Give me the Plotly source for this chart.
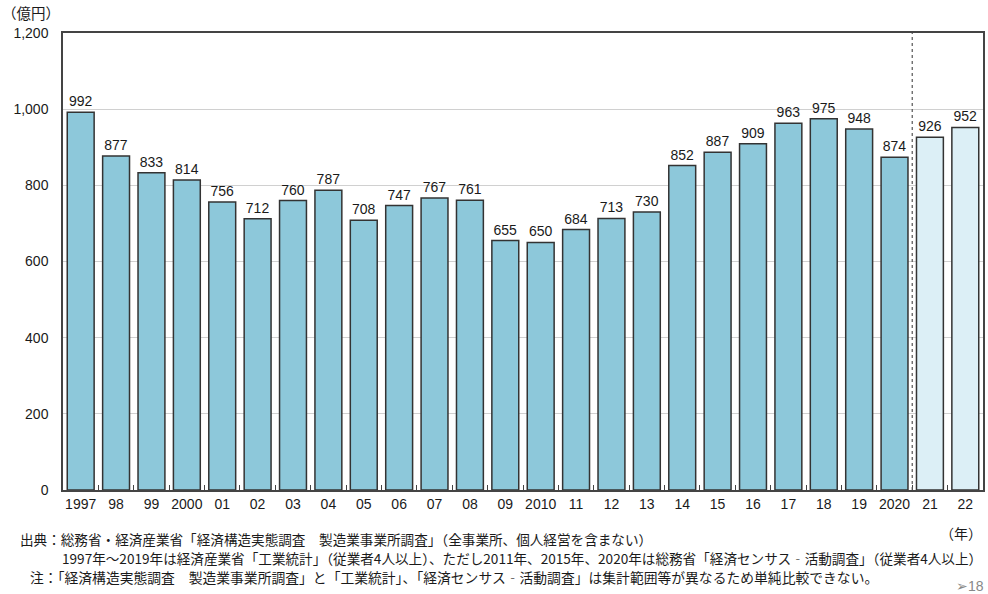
import plotly.graph_objects as go

years = ["1997", "98", "99", "2000", "01", "02", "03", "04", "05", "06", "07", "08", "09",
         "2010", "11", "12", "13", "14", "15", "16", "17", "18", "19", "2020", "21", "22"]
values = [992, 877, 833, 814, 756, 712, 760, 787, 708, 747, 767, 761, 655,
          650, 684, 713, 730, 852, 887, 909, 963, 975, 948, 874, 926, 952]
projected = ["21", "22"]
y_ticks = [0, 200, 400, 600, 800, 1000, 1200]
y_tick_labels = ["0", "200", "400", "600", "800", "1,000", "1,200"]

colors = ["#DCEFF6" if y in projected else "#8DC8DA" for y in years]

font_family = "Liberation Sans, Arial, Noto Sans CJK JP, sans-serif"
jp_font = "Noto Sans CJK JP, sans-serif"

W, H = 988, 594
ML, MR, MT, MB = 63, 3, 33, 104

fig = go.Figure()
fig.add_trace(go.Bar(
    x=years, y=values,
    marker=dict(color=colors, line=dict(color="#333333", width=1.5)),
    text=[str(v) for v in values],
    textposition="outside",
    textfont=dict(size=14, color="#1a1a1a", family=font_family),
    cliponaxis=False,
    width=0.76,
    hoverinfo="x+y",
))

# dashed boundary between actual and later years
fig.add_shape(type="line", xref="x", yref="paper",
              x0=23.5, x1=23.5, y0=0, y1=1,
              line=dict(color="#555555", width=1.2, dash="dot"))

fig.update_layout(
    width=W, height=H,
    margin=dict(l=ML, r=MR, t=MT, b=MB),
    paper_bgcolor="white", plot_bgcolor="white",
    showlegend=False,
    font=dict(family=font_family, size=14, color="#1a1a1a"),
    xaxis=dict(
        type="category", showline=True, linecolor="#444444", linewidth=1.5,
        mirror=True, ticks="inside", tickson="boundaries", ticklen=5,
        tickcolor="#444444", tickfont=dict(size=14, color="#1a1a1a"),
        tickangle=0, range=[-0.5, 25.5],
    ),
    yaxis=dict(
        range=[0, 1200], tickvals=y_ticks, ticktext=y_tick_labels,
        showgrid=True, gridcolor="#D0D0D0", gridwidth=1,
        showline=True, linecolor="#444444", linewidth=1.5, mirror=True,
        ticks="", tickfont=dict(size=14, color="#1a1a1a"), zeroline=False,
        ticklabelstandoff=10,
    ),
)

annotations = [
    dict(text="（億円）", x=0, y=12, xanchor="left", yanchor="middle",
         font=dict(size=14.5, family=jp_font, color="#1a1a1a")),
    dict(text="（年）", x=986, y=533, xanchor="right", yanchor="middle",
         font=dict(size=14, family=jp_font, color="#1a1a1a")),
    dict(text="出典：総務省・経済産業省「経済構造実態調査　製造業事業所調査」（全事業所、個人経営を含まない）",
         x=18, y=539, xanchor="left", yanchor="middle",
         font=dict(size=13.6, family=jp_font, color="#1a1a1a")),
    dict(text="1997年～2019年は経済産業省「工業統計」（従業者4人以上）、ただし2011年、2015年、2020年は総務省「経済センサス‐活動調査」（従業者4人以上）",
         x=60, y=558, xanchor="left", yanchor="middle",
         font=dict(size=13.6, family=jp_font, color="#1a1a1a")),
    dict(text="注：「経済構造実態調査　製造業事業所調査」と「工業統計」、「経済センサス‐活動調査」は集計範囲等が異なるため単純比較できない。",
         x=28, y=577, xanchor="left", yanchor="middle",
         font=dict(size=13.8, family=jp_font, color="#1a1a1a")),
    dict(text="➢18", x=988, y=586, xanchor="right", yanchor="middle",
         font=dict(size=14, family=font_family, color="#888888")),
]
plot_w = W - ML - MR
plot_h = H - MT - MB
for a in annotations:
    a.update(xref="paper", yref="paper", showarrow=False)
    a["x"] = (a["x"] - ML) / plot_w
    a["y"] = (H - a["y"] - MB) / plot_h
fig.update_layout(annotations=annotations)

fig.write_html("out.html", config={"displayModeBar": False},
               post_script="document.body.style.margin='0';document.body.style.overflow='hidden';")
